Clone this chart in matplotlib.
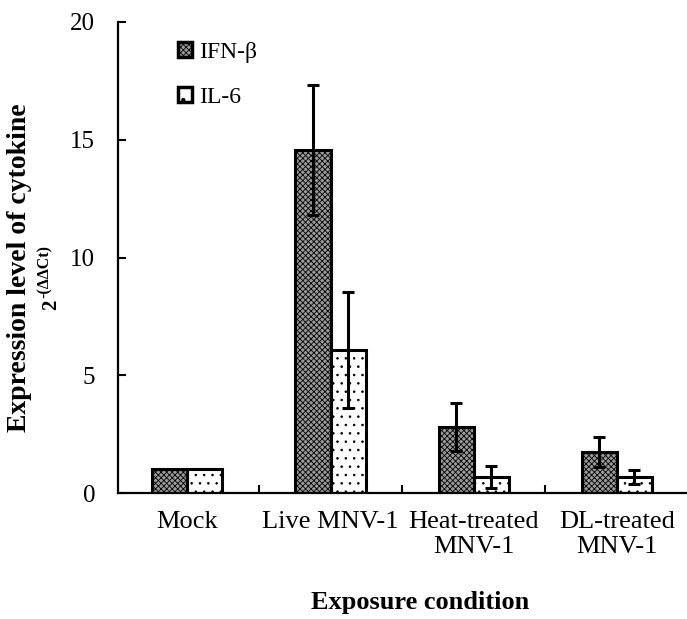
import matplotlib
matplotlib.use("Agg")
import matplotlib.pyplot as plt
from matplotlib.patches import Patch
import numpy as np

categories = ["Mock", "Live MNV-1", "Heat-treated\nMNV-1", "DL-treated\nMNV-1"]
ifn_beta = [1.0, 14.56, 2.80, 1.74]
ifn_err = [0.0, 2.77, 1.02, 0.64]
il6 = [1.0, 6.07, 0.68, 0.68]
il6_err = [0.0, 2.46, 0.47, 0.30]
series_names = ["IFN-\u03b2", "IL-6"]
yticks = [0, 5, 10, 15, 20]

plt.rcParams['font.family'] = ['Liberation Serif', 'DejaVu Serif']
plt.rcParams['hatch.linewidth'] = 0.6

W, H = 687, 619
fig = plt.figure(figsize=(W / 100, H / 100), dpi=100)
ax = fig.add_axes([118 / W, 126 / H, 569 / W, 471 / H])

x = np.arange(len(categories))
bw = 0.245
ifn_face = '#9a9a9a'
ifn_hatch = 'xxxxxx'
il6_hatch = '..'
ax.bar(x - bw / 2, ifn_beta, bw, facecolor=ifn_face, edgecolor='black',
       hatch=ifn_hatch, linewidth=0, zorder=2)
ax.bar(x - bw / 2, ifn_beta, bw, fill=False, edgecolor='black', linewidth=2.2, zorder=3)
ax.bar(x + bw / 2, il6, bw, facecolor='white', edgecolor='black',
       hatch=il6_hatch, linewidth=0, zorder=2)
ax.bar(x + bw / 2, il6, bw, fill=False, edgecolor='black', linewidth=2.2, zorder=3)

for xs, v, e in [(x - bw / 2, ifn_beta, ifn_err), (x + bw / 2, il6, il6_err)]:
    mask = np.array(e) > 0
    ax.errorbar(np.array(xs)[mask], np.array(v)[mask], yerr=np.array(e)[mask],
                fmt='none', ecolor='black', elinewidth=2.2, capsize=4.5, capthick=2.2, zorder=4)

ax.set_xlim(-0.485, 3.49)
ax.set_ylim(0, 20)
ax.set_yticks(yticks)
ax.set_yticklabels([str(t) for t in yticks], fontsize=18)
ax.set_xticks(x)
ax.set_xticklabels(categories, fontsize=19, linespacing=1.2)
ax.tick_params(axis='x', length=0, pad=13)
ax.tick_params(axis='y', direction='in', length=6, width=1.5, pad=16.5)
ax.set_xticks(x[:-1] + 0.5, minor=True)
ax.tick_params(axis='x', which='minor', direction='in', length=6, width=1.5)
for s in ['top', 'right']:
    ax.spines[s].set_visible(False)
for s in ['left', 'bottom']:
    ax.spines[s].set_linewidth(1.6)

handles = [Patch(facecolor=ifn_face, edgecolor='black', hatch=ifn_hatch, linewidth=2.5),
           Patch(facecolor='white', edgecolor='black', hatch='.', linewidth=2.5)]
ax.legend(handles, series_names, loc='upper left', bbox_to_anchor=(60 / 569, 1 - 20 / 471),
          frameon=False, fontsize=17, handlelength=0.6, handleheight=0.6,
          handletextpad=0.3, labelspacing=1.0, borderaxespad=0, borderpad=0)

fig.text(420 / W, 1 - 602 / H, "Exposure condition", ha='center', va='center',
         fontsize=19, fontweight='bold')
fig.text(20 / W, 1 - 268 / H, "Expression level of cytokine", rotation=90,
         ha='center', va='center', fontsize=20, fontweight='bold')
fig.text(51 / W, 1 - 310 / H, "2", rotation=90, ha='center', va='bottom',
         fontsize=15, fontweight='bold')
fig.text(45 / W, 1 - 298 / H, "-(\u0394\u0394Ct)", rotation=90, ha='center', va='bottom',
         fontsize=11.5, fontweight='bold')

fig.savefig("out.png", dpi=100)
